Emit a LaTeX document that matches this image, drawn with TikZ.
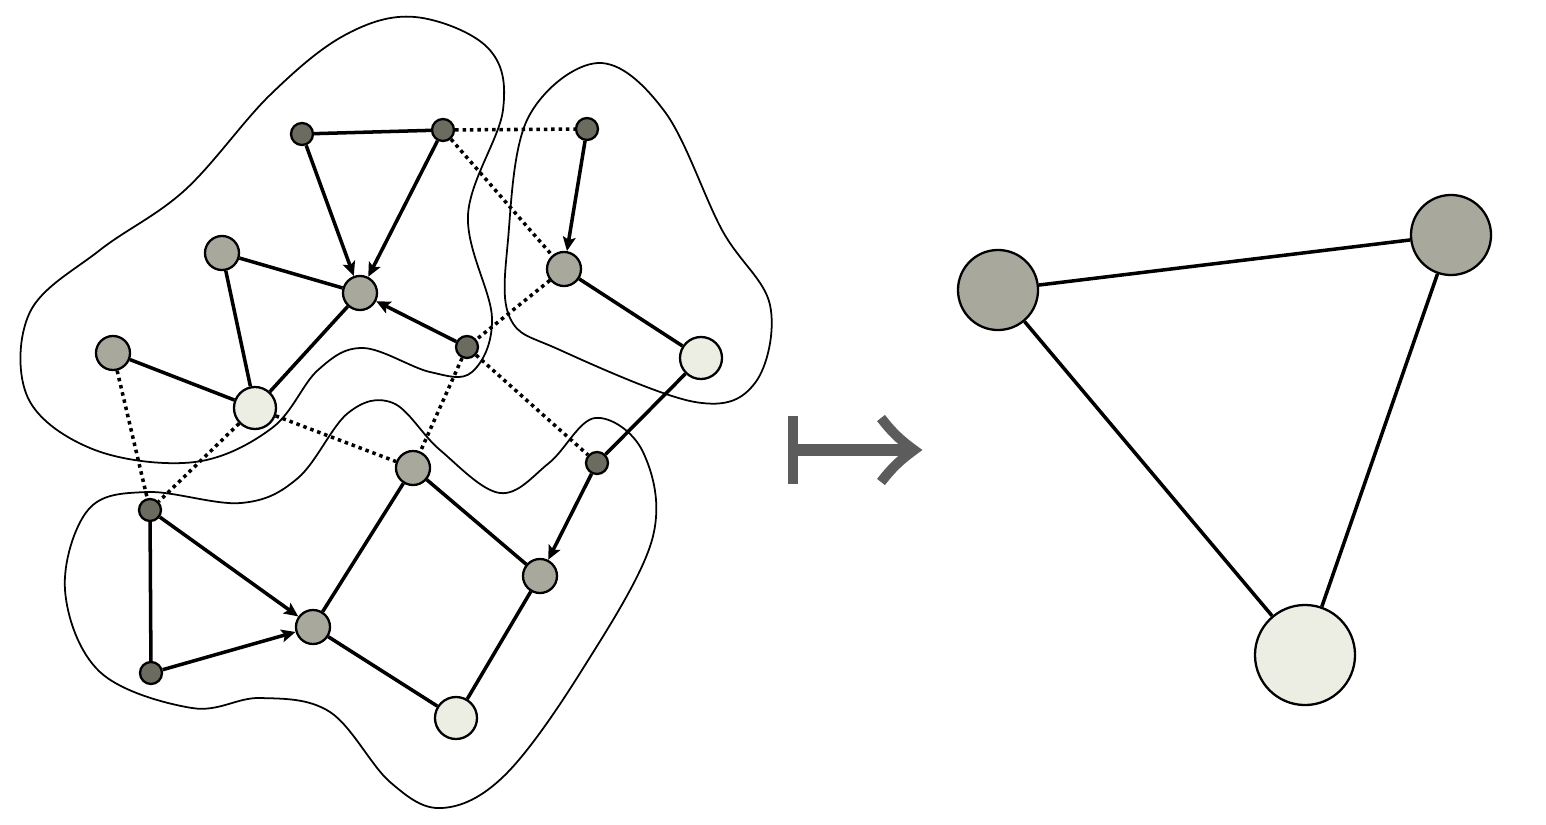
\documentclass[tikz,border=0pt]{standalone}
\usepackage{amsmath,amssymb}
\usetikzlibrary{arrows.meta}
\definecolor{escuro}{HTML}{6B6B5F}
\definecolor{medio}{HTML}{A8A89C}
\definecolor{claro}{HTML}{ECEDE3}
\definecolor{cinza}{HTML}{5C5C5C}

\begin{document}
\begin{tikzpicture}[x=0.01cm,y=-0.01cm,
  vesc/.style={circle,draw,line width=0.65pt,fill=escuro,inner sep=0pt,minimum size=0.22cm},
  vmed/.style={circle,draw,line width=0.65pt,fill=medio,inner sep=0pt,minimum size=0.34cm},
  vcla/.style={circle,draw,line width=0.65pt,fill=claro,inner sep=0pt,minimum size=0.42cm},
  aresta/.style={line width=1pt},
  dir/.style={line width=1pt,-{Stealth[length=4pt,width=3.6pt,inset=0.8pt]}},
  pont/.style={line width=1pt,dash pattern=on 1pt off 1.1pt},
  regiao/.style={line width=0.5pt}]
  \useasboundingbox (0,0) rectangle (1546,824);
  % Regiões
  \draw[regiao] plot[smooth cycle,tension=0.6] coordinates {
    (415,17) (488,48) (503,110) (468,215) (492,318) (472,372) (430,372)
    (363,348) (318,370) (272,428) (195,462) (95,450) (28,398) (30,312)
    (100,250) (185,190) (270,95) (345,35)
  };
  \draw[regiao] plot[smooth cycle,tension=0.6] coordinates {
    (598,63) (665,112) (722,230) (770,305) (755,383) (695,402) (560,350)
    (510,318) (508,240) (528,118)
  };
  \draw[regiao] plot[smooth cycle,tension=0.6] coordinates {
    (147,492) (241,503) (298,478) (348,413) (393,403) (440,450) (500,493)
    (549,463) (595,418) (643,452) (652,540) (582,670) (505,775) (442,808)
    (390,782) (330,712) (260,698) (192,708) (100,672) (65,590) (88,510)
  };
  % Vértices
  \foreach \n/\x/\y in {a1/302/134, a2/443/130, a3/587/129, d1/467/347,
                        g1/597/463, h1/150/510, k1/151/673}
    \node[vesc] (\n) at (\x,\y) {};
  \foreach \n/\x/\y in {b1/222/253, b2/360/293, b3/564/269, c1/113/353,
                        f1/413/468, i1/540/576, j1/313/627}
    \node[vmed] (\n) at (\x,\y) {};
  \foreach \n/\x/\y in {e1/255/408, e2/701/358, l1/456/718}
    \node[vcla] (\n) at (\x,\y) {};
  % Arestas
  \foreach \u/\v in {a1/a2, b1/b2, b1/e1, c1/e1, e1/b2, b3/e2, e2/g1,
                     f1/i1, f1/j1, h1/k1, j1/l1, l1/i1}
    \draw[aresta] (\u) -- (\v);
  \foreach \u/\v in {a1/b2, a2/b2, d1/b2, a3/b3, g1/i1, h1/j1, k1/j1}
    \draw[dir] (\u) -- (\v);
  \foreach \u/\v in {a2/a3, a2/b3, b3/d1, d1/f1, d1/g1, e1/f1, e1/h1, c1/h1}
    \draw[pont] (\u) -- (\v);
  % Seta
  \draw[cinza,line width=0.1cm] (793,416) -- (793,484);
  \draw[cinza,line width=0.12cm] (789,450) -- (910,450);
  \draw[cinza,line width=0.1cm,line join=miter] (881,418) to[bend right=8] (914,450) to[bend right=8] (881,482);
  % Grafo quociente
  \node[circle,draw,line width=0.65pt,fill=medio,minimum size=0.8cm] (r1) at (998,290) {};
  \node[circle,draw,line width=0.65pt,fill=medio,minimum size=0.8cm] (r2) at (1451,235) {};
  \node[circle,draw,line width=0.65pt,fill=claro,minimum size=1cm] (r3) at (1305,655) {};
  \draw[aresta] (r1) -- (r2);
  \draw[aresta] (r1) -- (r3);
  \draw[aresta] (r2) -- (r3);
\end{tikzpicture}
\end{document}
